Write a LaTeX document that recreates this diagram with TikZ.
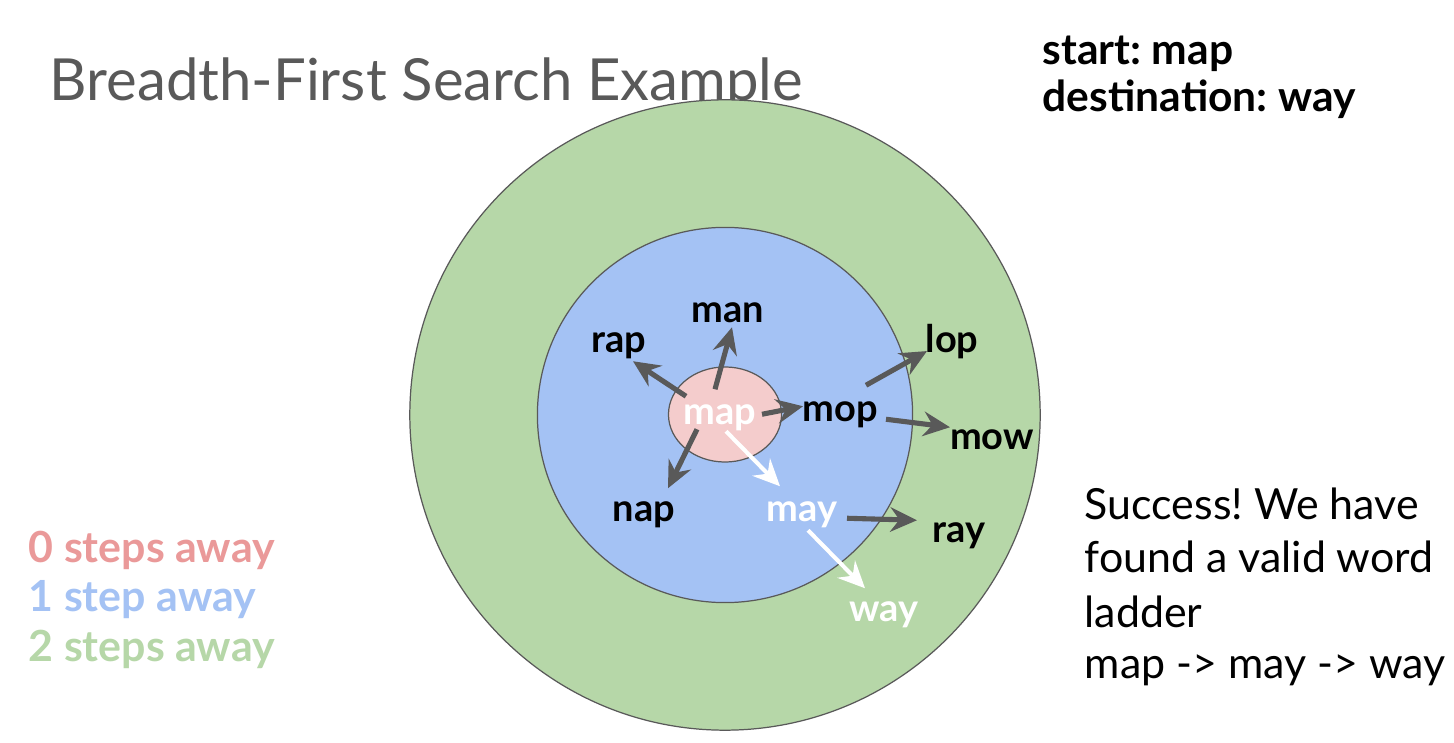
\documentclass[tikz,border=0pt]{standalone}
\usepackage{fontspec}
\setmainfont{Lato}
\usetikzlibrary{shapes.geometric,arrows.meta,calc}
\frenchspacing

\definecolor{ringgreen}{HTML}{B6D7A8}
\definecolor{ringblue}{HTML}{A4C2F4}
\definecolor{corepink}{HTML}{F4CCCC}
\definecolor{legendpink}{HTML}{EA9999}
\definecolor{edgegray}{HTML}{595959}
\definecolor{titlegray}{HTML}{595959}

\tikzset{
  word/.style={font=\fontsize{10.8pt}{12pt}\selectfont\bfseries, anchor=base, inner sep=0pt},
  pathword/.style={word, text=white},
  ring/.style={circle, draw=edgegray, line width=0.35pt, inner sep=0pt},
  edge/.style={draw=edgegray, line width=1.45pt,
    -{Stealth[length=7.6pt, width=7pt, inset=2.6pt]}},
  pathedge/.style={edge, draw=white, line width=1.15pt},
  legend/.style={font=\fontsize{12.2pt}{14pt}\selectfont\bfseries, anchor=base west, inner sep=0pt},
  note/.style={font=\fontsize{12.2pt}{15pt}\selectfont, anchor=base west, inner sep=0pt},
  header/.style={font=\fontsize{12.1pt}{14pt}\selectfont\bfseries, anchor=base west, inner sep=0pt},
}

\begin{document}
\begin{tikzpicture}[x=0.01cm, y=-0.01cm]
\useasboundingbox[fill=white] (0,0) rectangle (1454,743);

% title and search settings
\node[font=\fontsize{16.5pt}{19pt}\selectfont, text=titlegray, anchor=base west, inner sep=0pt]
  (title) at (49,101) {Breadth-First Search Example};
\node[header] (start) at (1042,65) {start: map};
\node[header] (dest) at (1042,112) {destination: way};

% distance rings
\node[ring, fill=ringgreen, minimum size=6.3cm] (two) at (725,415) {};
\node[ring, fill=ringblue, minimum size=3.75cm] (one) at (725,415) {};
\node[ellipse, draw=edgegray, line width=0.35pt, fill=corepink,
      minimum width=1.13cm, minimum height=0.95cm, inner sep=0pt] (core) at (725,414.5) {};

% words
\node[pathword] (map) at (720,425) {map};
\node[word] (rap) at (619,353) {rap};
\node[word] (man) at (728,323) {man};
\node[word] (mop) at (840,422) {mop};
\node[word] (nap) at (644,522) {nap};
\node[pathword] (may) at (802,522) {may};
\node[word] (lop) at (952,353) {lop};
\node[word] (mow) at (992,450) {mow};
\node[word] (ray) at (959,543) {ray};
\node[pathword] (way) at (884,622) {way};

% neighbour edges
\draw[edge] ($(map)+(-34,-22)$) -- ($(rap)+(14,15)$);
\draw[edge] ($(map)+(-5,-29)$) -- ($(man)+(4,14)$);
\draw[edge] ($(map)+(42,-4)$) -- ($(mop)+(-37,-9)$);
\draw[edge] ($(map)+(-23,11)$) -- ($(nap)+(24,-27)$);
\draw[edge] ($(mop)+(26,-30)$) -- ($(lop)+(-25,9)$);
\draw[edge] ($(mop)+(46,4)$) -- ($(mow)+(-42,-13)$);
\draw[edge] ($(may)+(45,3)$) -- ($(ray)+(-42,-16)$);

% path edges
\draw[pathedge] ($(map)+(6,13)$) -- ($(may)+(-22,-29)$);
\draw[pathedge] ($(may)+(6,15)$) -- ($(way)+(-19,-27)$);

% legend
\node[legend, text=legendpink] (l0) at (28,563) {0 steps away};
\node[legend, text=ringblue] (l1) at (28,612) {1 step away};
\node[legend, text=ringgreen] (l2) at (28,662) {2 steps away};

% result
\node[note] (r1) at (1084,520) {Success! We have};
\node[note] (r2) at (1084,573) {found a valid word};
\node[note] (r3) at (1084,627) {ladder};
\node[note] (r4) at (1084,679) {map -> may -> way};
\end{tikzpicture}
\end{document}
